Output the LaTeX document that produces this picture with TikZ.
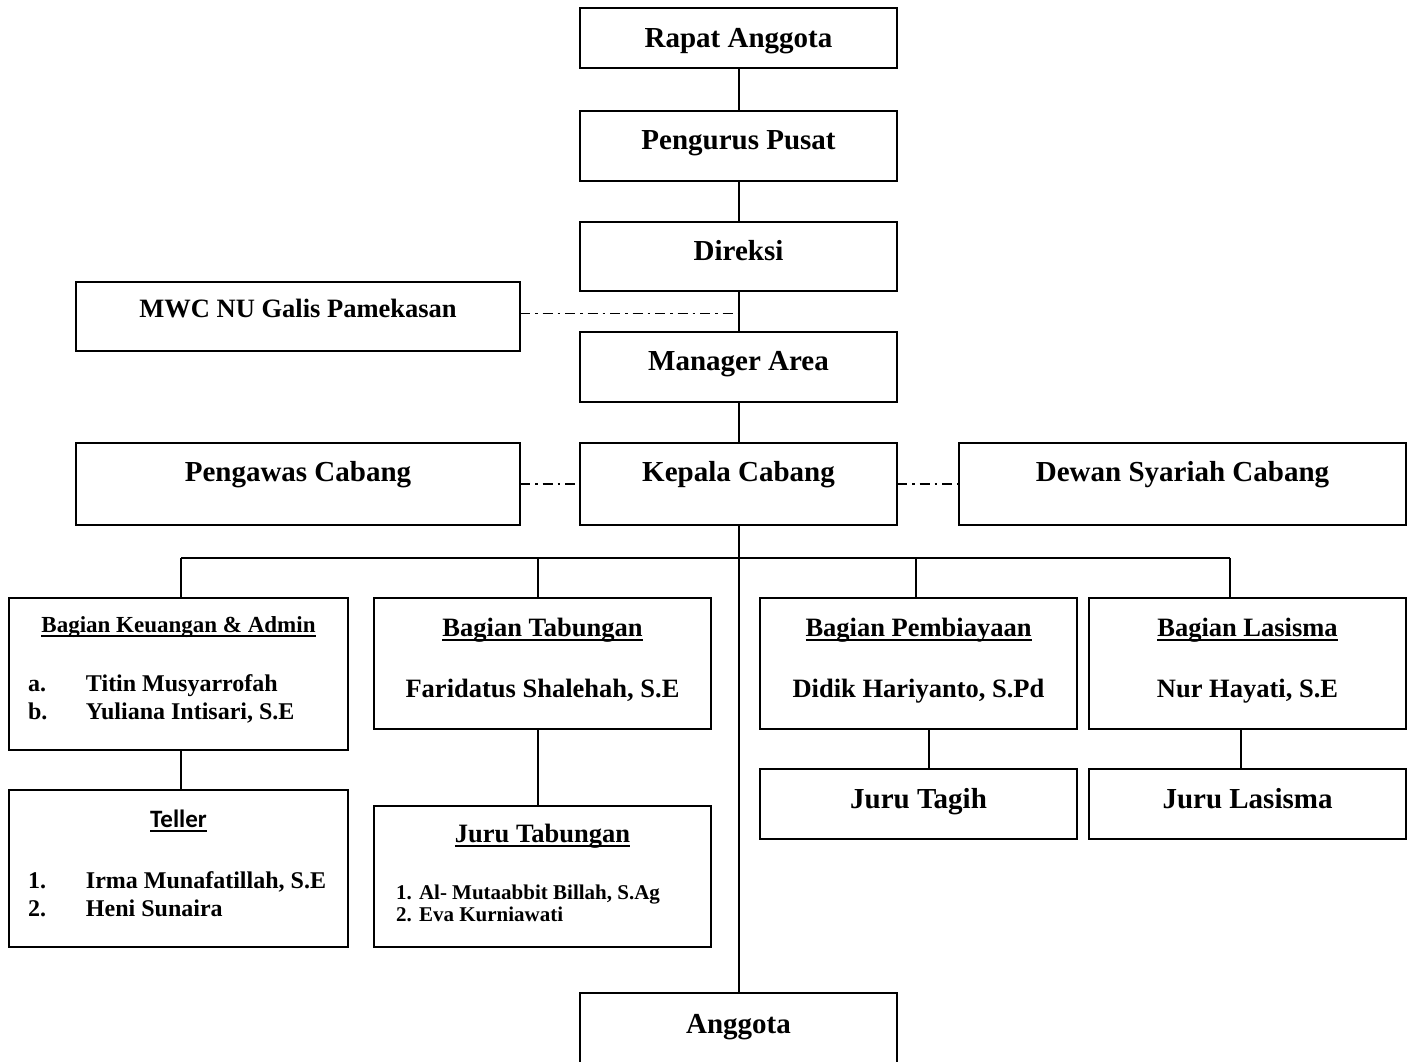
\documentclass[tikz,border=0pt]{standalone}
\usepackage{fontspec}
\setmainfont{Liberation Serif}
\newfontfamily\calib{Carlito}
\newcommand\fsz[1]{\fontsize{#1}{#1}\selectfont\bfseries}
\newcommand\mkbox[5]{\node[boxst, minimum width={(#4-#2)*1pt}, minimum height={(#5-#3)*1pt}] (#1) at ({(#2+#4)/2},{(#3+#5)/2}) {};}
\tikzset{
  boxst/.style={draw, line width=2pt, inner sep=0pt, outer sep=0pt, fill=white},
  txt/.style={inner sep=0pt, outer sep=0pt, anchor=base},
  conn/.style={line width=2pt},
  dd/.style={line width=1.6pt, dash pattern=on 10pt off 5pt on 2.5pt off 5pt},
  ul/.style={line width=1.6pt}
}
\begin{document}
\begin{tikzpicture}[x=1pt,y=-1pt]
\useasboundingbox (0,0) rectangle (1412,1061);
% boxes
\mkbox{rapat}{580}{8}{897}{68}
\mkbox{pengurus}{580}{111}{897}{181}
\mkbox{direksi}{580}{222}{897}{291}
\mkbox{mwc}{76}{282}{520}{351}
\mkbox{manager}{580}{332}{897}{402}
\mkbox{pengawas}{76}{443}{520}{525}
\mkbox{kepala}{580}{443}{897}{525}
\mkbox{dewan}{959}{443}{1406}{525}
\mkbox{keu}{9}{598}{348}{750}
\mkbox{tab}{374}{598}{711}{729}
\mkbox{pemb}{760}{598}{1077}{729}
\mkbox{las}{1089}{598}{1406}{729}
\mkbox{tagih}{760}{769}{1077}{839}
\mkbox{jlas}{1089}{769}{1406}{839}
\mkbox{teller}{9}{790}{348}{947}
\mkbox{jtab}{374}{806}{711}{947}
\mkbox{anggota}{580}{993}{897}{1068}
% connectors
\draw[conn] (rapat.south) -- (pengurus.north);
\draw[conn] (pengurus.south) -- (direksi.north);
\draw[conn] (direksi.south) -- (manager.north);
\draw[conn] (manager.south) -- (kepala.north);
\draw[conn] (kepala.south) -- (anggota.north);
\coordinate (m1) at ([yshift=3pt]mwc.east);
\draw[dd] (m1) -- (m1 -| direksi.south);
\draw[dd] (pengawas.east) -- (kepala.west);
\draw[dd] (kepala.east) -- (dewan.west);
\coordinate (b1) at (181,558);
\coordinate (b2) at (538,558);
\coordinate (b3) at (916,558);
\coordinate (b4) at (1230,558);
\draw[conn] (b1) -- (b4);
\draw[conn] (b1) -- (b1 |- keu.north);
\draw[conn] (b2) -- (b2 |- tab.north);
\draw[conn] (b3) -- (b3 |- pemb.north);
\draw[conn] (b4) -- (b4 |- las.north);
\coordinate (v1) at (181,0);
\coordinate (v2) at (538,0);
\coordinate (v3) at (929,0);
\coordinate (v4) at (1241,0);
\draw[conn] (v1 |- keu.south) -- (v1 |- teller.north);
\draw[conn] (v2 |- tab.south) -- (v2 |- jtab.north);
\draw[conn] (v3 |- pemb.south) -- (v3 |- tagih.north);
\draw[conn] (v4 |- las.south) -- (v4 |- jlas.north);
% texts
\node[txt, font=\fsz{29}] (t1) at (738.5,47) {Rapat Anggota};
\node[txt, font=\fsz{29}] (t2) at (738.5,149) {Pengurus Pusat};
\node[txt, font=\fsz{29}] (t3) at (738.5,260) {Direksi};
\node[txt, font=\fsz{26.5}] (t4) at (298,317) {MWC NU Galis Pamekasan};
\node[txt, font=\fsz{29}] (t5) at (738.5,370) {Manager Area};
\node[txt, font=\fsz{29}] (t6) at (298,481) {Pengawas Cabang};
\node[txt, font=\fsz{29}] (t7) at (738.5,481) {Kepala Cabang};
\node[txt, font=\fsz{29}] (t8) at (1182.5,481) {Dewan Syariah Cabang};
% Keuangan
\node[txt, font=\fsz{23}] (k0) at (178.5,632) {Bagian Keuangan \& Admin};
\draw[ul] ([yshift=-4pt]k0.base west) -- ([yshift=-4pt]k0.base east);
\node[txt, anchor=base west, font=\fsz{24}] (k1) at (28,691) {\makebox[58pt][l]{a.}Titin Musyarrofah};
\node[txt, anchor=base west, font=\fsz{24}] (k2) at (28,719) {\makebox[58pt][l]{b.}Yuliana Intisari, S.E};
% Tabungan
\node[txt, font=\fsz{26.5}] (a0) at (542.5,636) {Bagian Tabungan};
\draw[ul] ([yshift=-4pt]a0.base west) -- ([yshift=-4pt]a0.base east);
\node[txt, font=\fsz{26.5}] (a1) at (542.5,697) {Faridatus Shalehah, S.E};
% Pembiayaan
\node[txt, font=\fsz{26.5}] (p0) at (918.5,636) {Bagian Pembiayaan};
\draw[ul] ([yshift=-4pt]p0.base west) -- ([yshift=-4pt]p0.base east);
\node[txt, font=\fsz{26.5}] (p1) at (918.5,697) {Didik Hariyanto, S.Pd};
% Lasisma
\node[txt, font=\fsz{26.5}] (l0) at (1247.5,636) {Bagian Lasisma};
\draw[ul] ([yshift=-4pt]l0.base west) -- ([yshift=-4pt]l0.base east);
\node[txt, font=\fsz{26.5}] (l1) at (1247.5,697) {Nur Hayati, S.E};
% Juru Tagih / Lasisma
\node[txt, font=\fsz{29}] (g0) at (918.5,808) {Juru Tagih};
\node[txt, font=\fsz{29}] (j0) at (1247.5,808) {Juru Lasisma};
% Teller
\node[txt, font=\calib\fontsize{25}{25}\selectfont\bfseries] (e0) at (178.5,827) {Teller};
\draw[ul] ([yshift=-4pt]e0.base west) -- ([yshift=-4pt]e0.base east);
\node[txt, anchor=base west, font=\fsz{24}] (e1) at (28,888) {\makebox[58pt][l]{1.}Irma Munafatillah, S.E};
\node[txt, anchor=base west, font=\fsz{24}] (e2) at (28,916) {\makebox[58pt][l]{2.}Heni Sunaira};
% Juru Tabungan
\node[txt, font=\fsz{26.5}] (u0) at (542.5,842) {Juru Tabungan};
\draw[ul] ([yshift=-4pt]u0.base west) -- ([yshift=-4pt]u0.base east);
\node[txt, anchor=base west, font=\fsz{21}] (u1) at (396,899) {\makebox[23pt][l]{1.}Al- Mutaabbit Billah, S.Ag};
\node[txt, anchor=base west, font=\fsz{21}] (u2) at (396,921) {\makebox[23pt][l]{2.}Eva Kurniawati};
% Anggota
\node[txt, font=\fsz{29}] (n0) at (738.5,1033) {Anggota};
\end{tikzpicture}
\end{document}
